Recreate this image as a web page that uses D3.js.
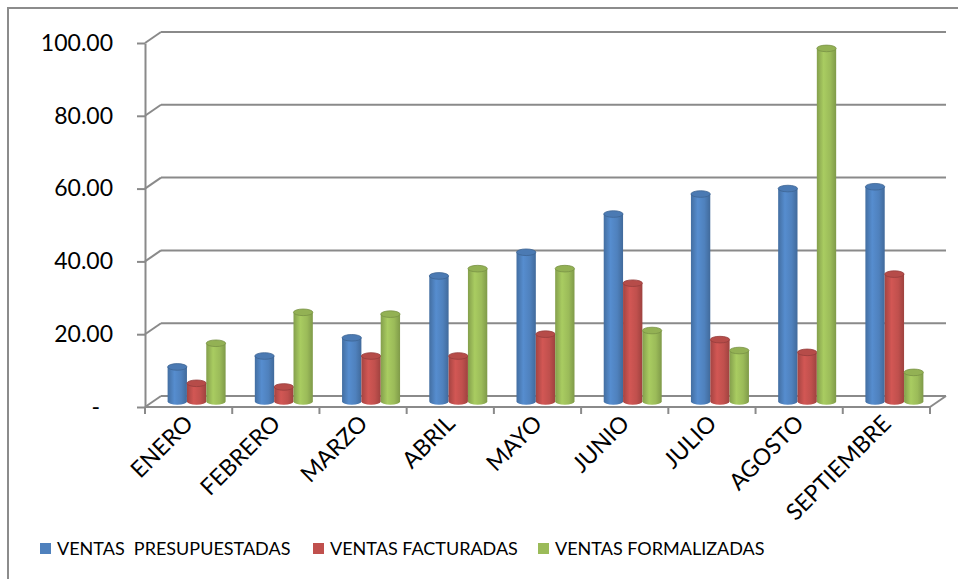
<!DOCTYPE html>
<html>
<head>
<meta charset="utf-8">
<script src="https://cdn.jsdelivr.net/npm/d3@7"></script>
<style>
  body { margin: 0; background: #fff; }
  svg { display: block; font-family: Lato, "Open Sans", sans-serif; }
</style>
</head>
<body>
<svg id="chart" width="958" height="579"></svg>
<script>
var months = ['ENERO', 'FEBRERO', 'MARZO', 'ABRIL', 'MAYO', 'JUNIO', 'JULIO', 'AGOSTO', 'SEPTIEMBRE'];
var seriesNames = ['VENTAS  PRESUPUESTADAS', 'VENTAS FACTURADAS', 'VENTAS FORMALIZADAS'];
var presupuestadas = [9.5, 12.5, 17.5, 34.5, 41, 51.5, 57, 58.5, 59];
var facturadas = [5, 4, 12.5, 12.5, 18.5, 32.5, 17, 13.5, 35];
var formalizadas = [16, 24.5, 24, 36.5, 36.5, 19.5, 14, 97, 8];
var yTicks = [0, 20, 40, 60, 80, 100];
var colors = ['#4F81BD', '#C0504D', '#9BBB59'];

var svg = d3.select('#chart');
var x0 = 145, x1 = 930, depthX = 16, depthY = -11;

var x = d3.scaleBand().domain(months).range([x0, x1]);
var inner = d3.scaleBand().domain(d3.range(3)).range([-29, 29]);
var y = d3.scaleLinear().domain([0, 100]).range([407, 43]);

var values = [presupuestadas, facturadas, formalizadas];

// chart border (only left and top edges fall inside the picture)
svg.append('rect')
  .attr('x', 8).attr('y', 8).attr('width', 980).attr('height', 600)
  .attr('fill', 'none').attr('stroke', '#8c8c8c').attr('stroke-width', 2);

// gradients for the cylinders
var defs = svg.append('defs');
colors.forEach(function(c, i) {
  var base = d3.color(c);
  var g = defs.append('linearGradient').attr('id', 'cyl' + i);
  g.append('stop').attr('offset', '0%').attr('stop-color', base.darker(0.45));
  g.append('stop').attr('offset', '35%').attr('stop-color', base.brighter(0.25));
  g.append('stop').attr('offset', '70%').attr('stop-color', base);
  g.append('stop').attr('offset', '100%').attr('stop-color', base.darker(0.55));
});

// walls and gridlines
var grid = svg.append('g').attr('stroke', '#8a8a8a').attr('stroke-width', 2).attr('fill', 'none');
yTicks.forEach(function(v) {
  grid.append('line')
    .attr('x1', x0 + depthX).attr('x2', x1 + depthX)
    .attr('y1', y(v) + depthY).attr('y2', y(v) + depthY);
  grid.append('line')
    .attr('x1', x0).attr('x2', x0 + depthX)
    .attr('y1', y(v)).attr('y2', y(v) + depthY);
});
// floor front edge and right edge
grid.append('line').attr('x1', x0).attr('x2', x1).attr('y1', y(0)).attr('y2', y(0));
grid.append('line').attr('x1', x1).attr('x2', x1 + depthX).attr('y1', y(0)).attr('y2', y(0) + depthY);

// y axis
var yAxis = svg.append('g')
  .attr('transform', 'translate(' + x0 + ',0)')
  .call(d3.axisLeft(y).tickValues(yTicks).tickSize(8).tickSizeOuter(0).tickPadding(24)
    .tickFormat(function(v) { return v === 0 ? '-' : d3.format('.2f')(v); }));
yAxis.select('.domain').attr('stroke', '#8a8a8a').attr('stroke-width', 2);
yAxis.selectAll('.tick line').attr('stroke', '#8a8a8a').attr('stroke-width', 2);
yAxis.selectAll('.tick text')
  .attr('font-size', 23).attr('fill', '#000').attr('font-family', 'Lato')
  .attr('x', function(v) { return v === 0 ? -45 : -32; });

// category ticks
svg.append('g').selectAll('line')
  .data(months.map(function(m) { return x(m); }).concat([x1]))
  .join('line')
  .attr('x1', function(d) { return d; }).attr('x2', function(d) { return d; })
  .attr('y1', y(0)).attr('y2', y(0) + 7)
  .attr('stroke', '#8a8a8a').attr('stroke-width', 2);

// cylinders
var rx = inner.bandwidth() / 2, ry = 3.3;
var bars = svg.append('g');
months.forEach(function(m, mi) {
  values.forEach(function(vals, si) {
    var cx = x(m) + x.bandwidth() / 2 + depthX / 2 + inner(si) + rx;
    var top = y(vals[mi]) + depthY / 2;
    var bottom = y(0) + depthY / 2;
    var g = bars.append('g');
    g.append('path')
      .attr('d', 'M' + (cx - rx) + ',' + top + 'L' + (cx - rx) + ',' + bottom +
        'A' + rx + ',' + ry + ' 0 0 0 ' + (cx + rx) + ',' + bottom +
        'L' + (cx + rx) + ',' + top + 'Z')
      .attr('fill', 'url(#cyl' + si + ')');
    g.append('ellipse')
      .attr('cx', cx).attr('cy', top).attr('rx', rx).attr('ry', ry)
      .attr('fill', d3.color(colors[si]).darker(0.15))
      .attr('stroke', d3.color(colors[si]).darker(0.7)).attr('stroke-width', 0.8);
  });
});

// x labels
svg.append('g').selectAll('text')
  .data(months)
  .join('text')
  .attr('transform', function(m) {
    return 'translate(' + (x(m) + x.bandwidth() / 2 + 6) + ',425) rotate(-45)';
  })
  .attr('text-anchor', 'end')
  .attr('font-size', 23)
  .attr('fill', '#000')
  .text(function(m) { return m; });

// legend
var legendX = [40, 313, 538];
var legend = svg.append('g').selectAll('g')
  .data(seriesNames)
  .join('g')
  .attr('transform', function(d, i) { return 'translate(' + legendX[i] + ',543)'; });
legend.append('rect').attr('width', 11).attr('height', 11)
  .attr('fill', function(d, i) { return colors[i]; });
legend.append('text')
  .attr('x', 17).attr('y', 11.5)
  .attr('font-size', 18)
  .attr('fill', '#000')
  .style('white-space', 'pre')
  .text(function(d) { return d; });
</script>
</body>
</html>
